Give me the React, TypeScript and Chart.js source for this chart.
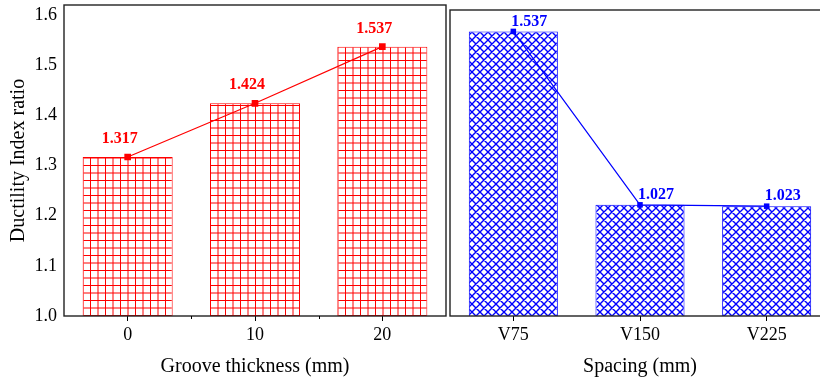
import React, { useEffect, useRef } from 'react';
import { Chart, registerables } from 'chart.js';

Chart.register(...registerables);

// ---- data ----
const grooveCategories = ['0', '10', '20'];
const grooveValues = [1.317, 1.424, 1.537];
const spacingCategories = ['V75', 'V150', 'V225'];
const spacingValues = [1.537, 1.027, 1.023];
const leftYTicks = [1.0, 1.1, 1.2, 1.3, 1.4, 1.5, 1.6];
const leftYMin = 1.0;
const leftYMax = 1.62;
const rightYMin = 0.7;
const rightYMax = 1.6;

const FONT = '"Liberation Serif", "Times New Roman", serif';
const RED = '#ff0000';
const BLUE = '#0000ff';
const H = 379;

function gridPattern(target: CanvasRenderingContext2D) {
  const c = document.createElement('canvas');
  c.width = 15;
  c.height = 15;
  const g = c.getContext('2d')!;
  g.fillStyle = '#fff';
  g.fillRect(0, 0, 15, 15);
  g.strokeStyle = RED;
  g.lineWidth = 1;
  g.beginPath();
  g.moveTo(0.5, 0); g.lineTo(0.5, 15);
  g.moveTo(8, 0); g.lineTo(8, 15);
  g.moveTo(0, 0.5); g.lineTo(15, 0.5);
  g.moveTo(0, 8); g.lineTo(15, 8);
  g.stroke();
  return target.createPattern(c, 'repeat')!;
}

function hatchPattern(target: CanvasRenderingContext2D) {
  const s = 8;
  const c = document.createElement('canvas');
  c.width = s;
  c.height = s;
  const g = c.getContext('2d')!;
  g.fillStyle = '#fff';
  g.fillRect(0, 0, s, s);
  g.strokeStyle = BLUE;
  g.lineWidth = 1.4;
  g.beginPath();
  for (let k = -1; k <= 1; k++) {
    const o = k * s;
    g.moveTo(o - 1, -1); g.lineTo(o + s + 1, s + 1);
    g.moveTo(o + s + 1, -1); g.lineTo(o - 1, s + 1);
  }
  g.stroke();
  return target.createPattern(c, 'repeat')!;
}

const framePlugin = {
  id: 'frame',
  afterDraw(chart: any, _args: any, opts: any) {
    const { ctx, chartArea: a } = chart;
    ctx.save();
    ctx.strokeStyle = '#222';
    ctx.lineWidth = 1.4;
    ctx.strokeRect(a.left, a.top, a.right - a.left, a.bottom - a.top);
    if (opts && opts.minor) {
      const x = chart.scales.x;
      const n = chart.data.labels.length;
      ctx.lineWidth = 1;
      ctx.strokeStyle = '#000';
      ctx.beginPath();
      for (let i = 0; i < n - 1; i++) {
        const px = Math.round((x.getPixelForValue(i) + x.getPixelForValue(i + 1)) / 2) + 0.5;
        ctx.moveTo(px, a.bottom);
        ctx.lineTo(px, a.bottom + 3);
      }
      ctx.stroke();
    }
    ctx.restore();
  },
};

const labelPlugin = {
  id: 'valueLabels',
  afterDatasetsDraw(chart: any, _args: any, opts: any) {
    if (!opts || !opts.color) return;
    const { ctx } = chart;
    const meta = chart.getDatasetMeta(1);
    const values = chart.data.datasets[1].data;
    ctx.save();
    ctx.fillStyle = opts.color;
    ctx.font = `bold ${opts.size}px ${FONT}`;
    ctx.textAlign = opts.align;
    ctx.textBaseline = 'middle';
    meta.data.forEach((pt: any, i: number) => {
      ctx.fillText(Number(values[i]).toFixed(3), pt.x + opts.dx, pt.y + opts.dy);
    });
    ctx.restore();
  },
};

function xAxis(labels: string[], title: string) {
  return {
    type: 'category',
    offset: true,
    grid: {
      display: true,
      offset: false,
      drawOnChartArea: false,
      drawTicks: true,
      tickLength: 5,
      color: '#000',
      lineWidth: 1,
    },
    border: { display: false },
    ticks: { color: '#000', font: { family: FONT, size: 18 }, padding: 3, maxRotation: 0, autoSkip: false },
    title: {
      display: true,
      text: title,
      color: '#000',
      font: { family: FONT, size: 20 },
      padding: { top: 0, bottom: 0 },
    },
    afterFit: (s: any) => {
      s.height = 63;
      s.paddingLeft = 0;
      s.paddingRight = 0;
    },
  };
}

export default function App() {
  const leftRef = useRef<HTMLCanvasElement>(null);
  const rightRef = useRef<HTMLCanvasElement>(null);

  useEffect(() => {
    const lc = leftRef.current!;
    const rc = rightRef.current!;
    const lctx = lc.getContext('2d')!;
    const rctx = rc.getContext('2d')!;

    const left = new Chart(lc, {
      type: 'bar',
      data: {
        labels: grooveCategories,
        datasets: [
          {
            type: 'bar',
            data: grooveValues,
            backgroundColor: gridPattern(lctx),
            borderColor: RED,
            borderWidth: 1,
            barPercentage: 0.707,
            categoryPercentage: 1,
            order: 2,
          } as any,
          {
            type: 'line',
            data: grooveValues,
            borderColor: RED,
            borderWidth: 1.2,
            pointStyle: 'rect',
            pointRadius: 4.7,
            pointBackgroundColor: RED,
            pointBorderColor: RED,
            pointBorderWidth: 0,
            order: 1,
          } as any,
        ],
      },
      options: {
        responsive: false,
        animation: false,
        devicePixelRatio: 1,
        layout: { autoPadding: false, padding: { top: 5, right: 2, left: 0, bottom: 0 } },
        plugins: {
          legend: { display: false },
          tooltip: { enabled: false },
          frame: { minor: true },
          valueLabels: { color: RED, size: 16, align: 'center', dx: -8, dy: -18 },
        } as any,
        scales: {
          x: xAxis(grooveCategories, 'Groove thickness (mm)') as any,
          y: {
            min: leftYMin,
            max: leftYMax,
            grid: { display: false, drawTicks: false },
            border: { display: false },
            ticks: {
              color: '#000',
              font: { family: FONT, size: 18 },
              padding: 7,
              includeBounds: false,
              callback: (v: any) => Number(v).toFixed(1),
            },
            afterBuildTicks: (s: any) => {
              s.ticks = leftYTicks.map((v) => ({ value: v }));
            },
            title: {
              display: true,
              text: 'Ductility Index ratio',
              color: '#000',
              font: { family: FONT, size: 20 },
              padding: { top: 7, bottom: 0 },
            },
            afterFit: (s: any) => {
              s.width = 64;
              s.paddingTop = 0;
              s.paddingBottom = 0;
            },
          } as any,
        },
      },
      plugins: [framePlugin, labelPlugin],
    });

    const right = new Chart(rc, {
      type: 'bar',
      data: {
        labels: spacingCategories,
        datasets: [
          {
            type: 'bar',
            data: spacingValues,
            backgroundColor: hatchPattern(rctx),
            borderColor: BLUE,
            borderWidth: 1,
            barPercentage: 0.703,
            categoryPercentage: 1,
            order: 2,
          } as any,
          {
            type: 'line',
            data: spacingValues,
            borderColor: BLUE,
            borderWidth: 1.2,
            pointStyle: 'rect',
            pointRadius: 3.9,
            pointBackgroundColor: BLUE,
            pointBorderColor: BLUE,
            pointBorderWidth: 0,
            order: 1,
          } as any,
        ],
      },
      options: {
        responsive: false,
        animation: false,
        devicePixelRatio: 1,
        layout: { autoPadding: false, padding: { top: 10, right: 0, left: 2, bottom: 0 } },
        plugins: {
          legend: { display: false },
          tooltip: { enabled: false },
          frame: { minor: false },
          valueLabels: { color: BLUE, size: 16, align: 'left', dx: -2, dy: -10 },
        } as any,
        scales: {
          x: xAxis(spacingCategories, 'Spacing (mm)') as any,
          y: { display: false, min: rightYMin, max: rightYMax } as any,
        },
      },
      plugins: [framePlugin, labelPlugin],
    });

    return () => {
      left.destroy();
      right.destroy();
    };
  }, []);

  return (
    <div
      style={{
        position: 'fixed',
        left: 0,
        top: 0,
        width: 820,
        height: H,
        overflow: 'hidden',
        background: '#fff',
      }}
    >
      <canvas
        ref={leftRef}
        width={448}
        height={H}
        style={{ position: 'absolute', left: 0, top: 0, width: 448, height: H }}
      />
      <canvas
        ref={rightRef}
        width={382}
        height={H}
        style={{ position: 'absolute', left: 448, top: 0, width: 382, height: H }}
      />
    </div>
  );
}
